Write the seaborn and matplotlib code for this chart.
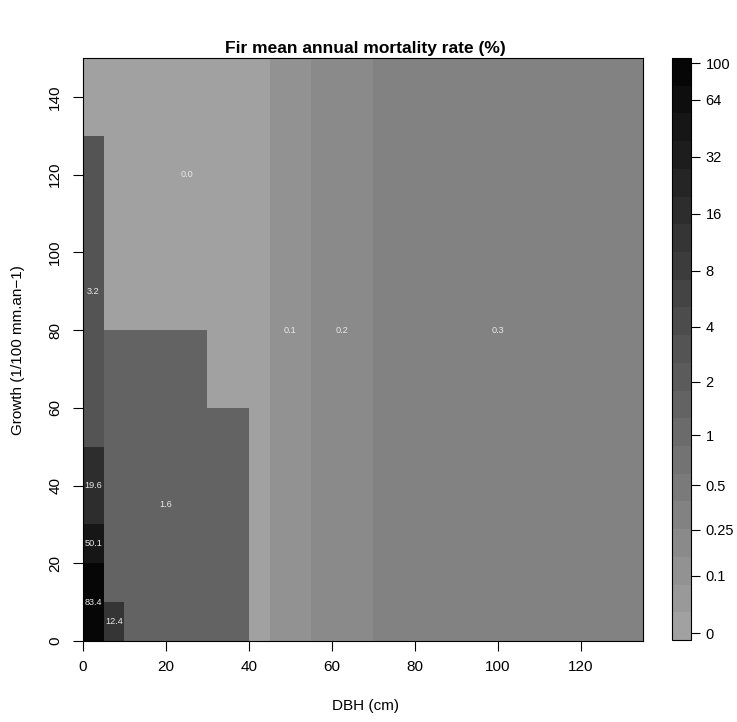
import numpy as np
import matplotlib
matplotlib.use("Agg")
import matplotlib.pyplot as plt
from matplotlib.colors import ListedColormap
import seaborn as sns

# ---------------------------------- DATOS ----------------------------------

# Limites de las clases de diametro (cm) y de crecimiento (1/100 mm.an-1)
dbh_edges = [0, 5, 10, 30, 40, 45, 55, 70, 135]
growth_edges = [0, 10, 20, 30, 50, 60, 80, 130, 150]

# Tasa de mortalidad (%) por celda: filas = crecimiento (de abajo hacia arriba), columnas = DBH
mortality = [
    [83.4, 12.4, 1.6, 1.6, 0.0, 0.1, 0.2, 0.3],
    [83.4, 1.6, 1.6, 1.6, 0.0, 0.1, 0.2, 0.3],
    [50.1, 1.6, 1.6, 1.6, 0.0, 0.1, 0.2, 0.3],
    [19.6, 1.6, 1.6, 1.6, 0.0, 0.1, 0.2, 0.3],
    [3.2, 1.6, 1.6, 1.6, 0.0, 0.1, 0.2, 0.3],
    [3.2, 1.6, 1.6, 0.0, 0.0, 0.1, 0.2, 0.3],
    [3.2, 0.0, 0.0, 0.0, 0.0, 0.1, 0.2, 0.3],
    [0.0, 0.0, 0.0, 0.0, 0.0, 0.1, 0.2, 0.3],
]

# Etiquetas dentro del grafico
label_text = ["0.0", "3.2", "0.1", "0.2", "0.3", "1.6", "19.6", "50.1", "83.4", "12.4"]
label_dbh = [25, 2.5, 50, 62.5, 100, 20, 2.5, 2.5, 2.5, 7.5]
label_growth = [120, 90, 80, 80, 80, 35, 40, 25, 10, 5]

# Escala de colores
legend_values = [0, 0.1, 0.25, 0.5, 1, 2, 4, 8, 16, 32, 64, 100]
legend_labels = ["0", "0.1", "0.25", "0.5", "1", "2", "4", "8", "16", "32", "64", "100"]

x_ticks = [0, 20, 40, 60, 80, 100, 120]
y_ticks = [0, 20, 40, 60, 80, 100, 120, 140]

# ---------------------------------- GRAFICO ----------------------------------

dx, dy = 5, 10  # resolucion de la malla

# Expande la tabla a una malla regular
z = np.array(mortality)
rep_x = np.diff(dbh_edges) // dx
rep_y = np.diff(growth_edges) // dy
grid = np.repeat(np.repeat(z, rep_y, axis=0), rep_x, axis=1)

# Transformacion log(x + 0.1) para la escala de colores
def trans(v):
    return np.log2(np.asarray(v) + 0.1)

t_grid = trans(grid)
vmin, vmax = trans(0) - 0.12, trans(100) + 0.09

n_col = 21
grays = np.linspace(161, 6, n_col) / 255
cmap = ListedColormap([(g, g, g) for g in grays])

sns.set_style("white")
plt.rcParams['font.family'] = ['Liberation Sans', 'DejaVu Sans']
plt.rcParams.update({'text.color': 'black', 'axes.labelcolor': 'black',
                     'xtick.color': 'black', 'ytick.color': 'black'})

fig = plt.figure(figsize=(7.37, 7.22), dpi=100)
ax = fig.add_axes([83 / 737, 1 - 641 / 722, 560 / 737, 583 / 722])
cax = fig.add_axes([672 / 737, 1 - 640 / 722, 19 / 737, 582 / 722])

sns.heatmap(t_grid, ax=ax, cmap=cmap, vmin=vmin, vmax=vmax,
            xticklabels=False, yticklabels=False,
            cbar_ax=cax, cbar_kws={'ticks': trans(legend_values)})
ax.set_ylim(0, t_grid.shape[0])

# Etiquetas de valores
for txt, xv, yv in zip(label_text, label_dbh, label_growth):
    ax.text(xv / dx, yv / dy, txt, color='#E8E8E8', fontsize=6.6,
            ha='center', va='center')

# Ejes estilo R
ax.set_xticks(np.array(x_ticks) / dx)
ax.set_xticklabels([str(v) for v in x_ticks])
ax.set_yticks(np.array(y_ticks) / dy)
ax.set_yticklabels([str(v) for v in y_ticks], rotation=90, va='center')
ax.tick_params(axis='both', direction='out', length=7, width=0.8,
               labelsize=11, colors='black', bottom=True, left=True)
ax.tick_params(axis='x', pad=7)
ax.tick_params(axis='y', pad=8)
for s in ax.spines.values():
    s.set_visible(True)
    s.set_color('black')
    s.set_linewidth(0.8)

# Barra de colores
cb = ax.collections[0].colorbar
cb.set_ticklabels(legend_labels)
cb.outline.set_visible(True)
cb.outline.set_linewidth(0.8)
cb.outline.set_edgecolor('black')
cax.tick_params(direction='out', length=6.5, width=0.8, labelsize=10.5, pad=4,
                colors='black')

# Titulos
fig.text(365 / 737, 1 - 48 / 722, 'Fir mean annual mortality rate (%)',
         ha='center', va='center', fontsize=12.5, fontweight='bold')
fig.text(365 / 737, 1 - 706 / 722, 'DBH (cm)', ha='center', va='center', fontsize=11)
fig.text(18 / 737, 1 - 350 / 722, 'Growth (1/100 mm.an\u22121)', ha='center',
         va='center', rotation=90, fontsize=11)

fig.savefig('out.png', dpi=100)
